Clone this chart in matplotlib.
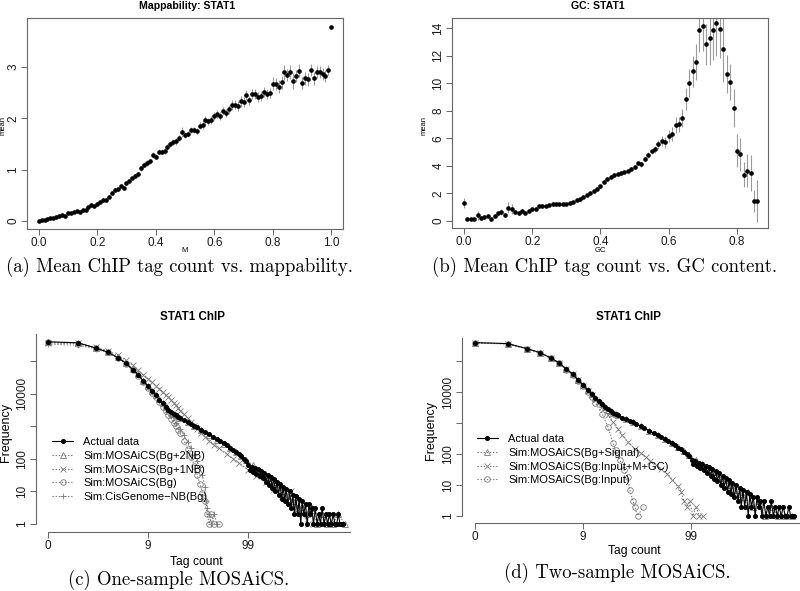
import numpy as np
import matplotlib.pyplot as plt

plt.rcParams['font.family'] = ['Liberation Sans', 'DejaVu Sans']

# (a) mean ChIP tag count per mappability bin
map_x = np.round(np.arange(0, 1.001, 0.01), 2)
map_mean = [0.00, 0.01, 0.02, 0.04, 0.05, 0.05, 0.07, 0.09, 0.11, 0.10,
            0.15, 0.15, 0.17, 0.19, 0.18, 0.22, 0.22, 0.27, 0.31, 0.30,
            0.34, 0.37, 0.40, 0.40, 0.47, 0.55, 0.60, 0.62, 0.68, 0.65,
            0.74, 0.78, 0.84, 0.88, 0.91, 1.03, 1.10, 1.13, 1.16, 1.28,
            1.25, 1.35, 1.35, 1.36, 1.45, 1.50, 1.54, 1.55, 1.62, 1.73,
            1.68, 1.70, 1.77, 1.78, 1.76, 1.86, 1.87, 1.97, 1.94, 1.97,
            2.05, 2.08, 2.04, 2.15, 2.10, 2.18, 2.26, 2.27, 2.24, 2.33,
            2.32, 2.46, 2.35, 2.48, 2.47, 2.41, 2.44, 2.51, 2.48, 2.50,
            2.68, 2.67, 2.62, 2.70, 2.90, 2.85, 2.91, 2.73, 2.83, 2.93,
            2.69, 2.78, 2.76, 2.95, 2.78, 2.91, 2.91, 2.87, 2.82, 2.94,
            3.79]
map_err = [0.01, 0.01, 0.01, 0.01, 0.01, 0.01, 0.01, 0.01, 0.01, 0.01,
           0.02, 0.02, 0.02, 0.02, 0.02, 0.02, 0.02, 0.02, 0.03, 0.03,
           0.03, 0.03, 0.03, 0.03, 0.03, 0.04, 0.04, 0.04, 0.04, 0.04,
           0.04, 0.04, 0.04, 0.04, 0.05, 0.05, 0.05, 0.05, 0.05, 0.06,
           0.05, 0.05, 0.05, 0.05, 0.06, 0.06, 0.06, 0.06, 0.06, 0.10,
           0.06, 0.06, 0.06, 0.06, 0.06, 0.07, 0.07, 0.08, 0.07, 0.07,
           0.08, 0.08, 0.08, 0.08, 0.08, 0.09, 0.09, 0.09, 0.09, 0.10,
           0.09, 0.10, 0.09, 0.10, 0.10, 0.10, 0.10, 0.10, 0.10, 0.10,
           0.12, 0.12, 0.12, 0.12, 0.15, 0.12, 0.14, 0.15, 0.12, 0.13,
           0.12, 0.12, 0.12, 0.12, 0.12, 0.12, 0.12, 0.12, 0.12, 0.10,
           0.00]

# (b) mean ChIP tag count per GC bin
gc_x = np.round(np.arange(0, 0.861, 0.01), 2)
gc_mean = [1.30, 0.15, 0.15, 0.15, 0.40, 0.20, 0.30, 0.35, 0.15, 0.35,
           0.55, 0.65, 0.45, 0.95, 0.85, 0.65, 0.55, 0.70, 0.55, 0.70,
           0.85, 0.90, 1.05, 1.10, 1.10, 1.15, 1.20, 1.20, 1.20, 1.20,
           1.25, 1.30, 1.40, 1.50, 1.60, 1.75, 1.90, 2.05, 2.20, 2.35,
           2.50, 2.80, 3.05, 3.20, 3.30, 3.40, 3.50, 3.55, 3.65, 3.80,
           3.90, 4.20, 4.10, 4.50, 4.80, 5.05, 5.20, 5.55, 5.80, 5.70,
           6.15, 6.30, 6.95, 7.00, 7.45, 8.85, 10.00, 10.85, 11.50, 13.85,
           14.15, 12.80, 13.30, 13.85, 14.35, 13.90, 12.45, 10.65, 10.05, 8.20,
           5.10, 4.85, 3.35, 3.65, 3.50, 1.45, 1.45]
gc_err = [0.35, 0.10, 0.10, 0.10, 0.30, 0.15, 0.15, 0.15, 0.12, 0.15,
          0.20, 0.20, 0.15, 0.40, 0.35, 0.15, 0.15, 0.15, 0.12, 0.12,
          0.10, 0.10, 0.08, 0.08, 0.08, 0.08, 0.08, 0.08, 0.08, 0.08,
          0.08, 0.08, 0.08, 0.08, 0.08, 0.08, 0.08, 0.08, 0.08, 0.08,
          0.10, 0.10, 0.10, 0.10, 0.10, 0.10, 0.10, 0.10, 0.10, 0.12,
          0.12, 0.12, 0.15, 0.15, 0.20, 0.20, 0.25, 0.30, 0.35, 0.40,
          0.45, 0.50, 0.60, 0.55, 0.65, 0.80, 1.00, 1.10, 1.30, 1.60,
          1.80, 1.50, 2.00, 2.20, 2.40, 2.10, 2.40, 1.40, 1.30, 1.40,
          1.20, 1.20, 0.90, 1.20, 1.30, 0.80, 1.50]

# (c), (d) tag count frequency: actual data
act_counts = (list(range(0, 21)) +
              [22, 24, 26, 28, 30, 33, 36, 40, 44, 48, 52, 56, 60, 65, 70, 75, 80, 85, 90, 95] +
              [100, 104, 108, 112, 116, 120, 125, 130, 135, 140, 145, 150, 156, 162, 168,
               174, 180, 187, 194, 201, 208, 216, 224, 232, 240, 250, 260, 270, 280, 290,
               300, 312, 324, 336, 348, 360, 375, 390, 405, 420, 435, 450, 470, 490, 510,
               530, 550, 575, 600, 625, 650, 680, 710, 740, 770, 800, 830, 860, 890])
act_freq = ([390000, 363000, 251000, 186000, 126000, 87000, 55000, 38000, 24000, 17000,
             11700, 8900, 6600, 5000, 4000, 3200, 2750, 2400, 2150, 1950, 1780] +
            [1500, 1330, 1180, 1050, 940, 790, 680, 560, 470, 400,
             345, 300, 260, 220, 190, 160, 140, 118, 100, 84] +
            [66, 46, 58, 40, 53, 35, 48, 30, 42, 25, 37, 20, 32, 16, 28,
             13, 24, 10, 20, 8, 17, 6, 14, 5, 12, 4, 10, 3, 8, 2,
             7, 2, 6, 1, 5, 2, 4, 1, 4, 2, 3, 1, 3, 1, 2,
             1, 3, 1, 2, 1, 2, 1, 2, 1, 1, 2, 1, 1, 1])

# (c) one-sample simulations
b2nb_counts = list(range(0, 21)) + [24, 28, 33, 40, 48, 56, 65, 75, 85, 95, 110, 125, 140, 160, 180,
                                    200, 225, 250, 280, 310, 350, 390, 440, 490, 550, 620, 700, 800, 930]
b2nb_freq = [375000, 352000, 255000, 190000, 130000, 90000, 57000, 39000, 25000, 17500,
             12000, 9000, 6700, 5100, 4100, 3300, 2800, 2450, 2200, 2000, 1800,
             1350, 1050, 780, 540, 390, 290, 215, 160, 120, 92, 65, 47, 36, 26, 19,
             14, 10, 7, 5, 3, 4, 2, 3, 1, 2, 1, 1, 2, 1]
b1nb_counts = list(range(0, 21)) + [22, 24, 26, 28, 30, 33, 36, 40, 45, 50, 60, 70, 80, 100, 120,
                                    150, 180, 220, 270, 330, 400]
b1nb_freq = [368000, 350000, 262000, 205000, 150000, 105000, 75000, 52000, 38000, 29000,
             22000, 17000, 14000, 11000, 9200, 7800, 6500, 5300, 4400, 3600, 3000,
             2300, 1750, 1350, 1050, 830, 620, 480, 360, 270, 210, 140, 100, 75, 45, 30,
             19, 12, 7, 10, 3, 1]
bg_counts = list(range(0, 21)) + [22, 24, 26, 28, 30, 32, 34, 36, 38, 40, 42, 45, 50]
bg_freq = [372000, 345000, 252000, 183000, 122000, 83000, 52000, 35000, 22000, 14500,
           10500, 7700, 5500, 4000, 3000, 2250, 1700, 1300, 1000, 780, 600,
           350, 200, 115, 62, 32, 17, 9, 5, 2, 1, 2, 1, 1]
cis_counts = list(range(0, 11)) + [12, 14, 16, 18, 20, 22, 24, 26, 28, 30, 32, 34, 36, 37, 38,
                                   40, 42, 45, 48]
cis_freq = [330000, 305000, 242000, 183000, 127000, 87000, 56000, 38000, 25000, 16500, 11500,
            6000, 3400, 2000, 1250, 800, 520, 330, 210, 130, 85, 55, 32, 14, 5, 3, 2, 1, 2, 1]

# (d) two-sample simulations
sig_counts = list(range(0, 21)) + [24, 28, 33, 40, 48, 56, 65, 75, 85, 95, 110, 125, 140, 160, 180,
                                   200, 225, 250, 280, 310, 335, 370, 420, 480, 550, 640, 740, 850]
sig_freq = [380000, 360000, 250000, 184000, 124000, 85000, 54000, 37000, 23500, 16500,
            11500, 8700, 6500, 5000, 4000, 3200, 2700, 2350, 2100, 1900, 1750,
            1320, 1040, 790, 560, 400, 300, 220, 165, 122, 92, 66, 48, 37, 27, 20,
            14, 10, 7, 5, 4, 6, 2, 3, 1, 2, 1, 1, 1]
mgc_counts = list(range(0, 13)) + [14, 16, 18, 20, 22, 25, 29, 33, 37, 41, 46, 52, 59, 66, 74,
                                   80, 85, 90, 96, 103, 110, 118, 127]
mgc_freq = [375000, 358000, 250000, 183000, 124000, 85000, 54000, 37000, 23500, 16000,
            11000, 7900, 5700, 3200, 1800, 1050, 620, 400, 240, 150, 105, 80, 60, 45,
            32, 23, 15, 9, 6, 3, 2, 3, 1, 2, 1, 1]
inp_counts = list(range(0, 13)) + [14, 16, 18, 19, 21, 23, 25, 26, 28, 29, 31, 35]
inp_freq = [378000, 357000, 248000, 182000, 122000, 83000, 52000, 35000, 22000, 15000,
            10000, 6800, 4500, 2000, 740, 220, 130, 63, 30, 18, 7, 3, 2, 1, 2]

AX_COL = '#666666'
SIM_COL = '#7a7a7a'
W, H = 800, 591

fig = plt.figure(figsize=(8, 5.91), dpi=100)


def px_axes(l, r, t, b):
    return fig.add_axes([l / W, 1 - b / H, (r - l) / W, (b - t) / H])


def style_ticks(ax, size=8.5):
    ax.tick_params(direction='out', length=4, width=0.7, colors=AX_COL,
                   labelcolor='#1a1a1a', labelsize=size, pad=1.5)
    for lab in ax.get_yticklabels():
        lab.set_rotation(90)
        lab.set_va('center')


# ---- (a) mappability ----
ax = px_axes(27, 343, 18, 229)
lo = np.array(map_mean) - np.array(map_err)
hi = np.array(map_mean) + np.array(map_err)
ax.vlines(map_x, lo, hi, color='#9a9a9a', lw=0.8)
ax.plot(map_x, map_mean, 'o', color='black', ms=2.3)
ax.set_xlim(-0.04, 1.04)
ax.set_ylim(-0.156, 3.957)
ax.set_xticks([0, 0.2, 0.4, 0.6, 0.8, 1.0])
ax.set_xticklabels(['0.0', '0.2', '0.4', '0.6', '0.8', '1.0'])
ax.set_yticks([0, 1, 2, 3])
ax.set_yticklabels(['0', '1', '2', '3'])
for s in ax.spines.values():
    s.set_color(AX_COL)
    s.set_linewidth(0.8)
style_ticks(ax)
ax.set_ylabel('mean', fontsize=5.5)
ax.yaxis.set_label_coords(-0.066, 0.49)
ax.set_xlabel('M', fontsize=5.5)
ax.xaxis.set_label_coords(0.5, -0.085)
fig.text(187 / W, 1 - 6 / H, 'Mappability: STAT1', ha='center', va='center',
         fontsize=7.6, fontweight='bold')

# ---- (b) GC content ----
ax = px_axes(452, 768, 18, 228)
lo = np.array(gc_mean) - np.array(gc_err)
hi = np.array(gc_mean) + np.array(gc_err)
ax.vlines(gc_x, lo, hi, color='#9a9a9a', lw=0.8)
ax.plot(gc_x, gc_mean, 'o', color='black', ms=2.3)
ax.set_xlim(-0.035, 0.891)
ax.set_ylim(-0.51, 14.72)
ax.set_xticks([0, 0.2, 0.4, 0.6, 0.8])
ax.set_xticklabels(['0.0', '0.2', '0.4', '0.6', '0.8'])
ax.set_yticks([0, 2, 4, 6, 8, 10, 12, 14])
ax.set_yticklabels(['0', '2', '4', '6', '8', '10', '12', '14'])
for s in ax.spines.values():
    s.set_color(AX_COL)
    s.set_linewidth(0.8)
style_ticks(ax)
ax.set_ylabel('mean', fontsize=5.5)
ax.yaxis.set_label_coords(-0.076, 0.49)
ax.set_xlabel('GC', fontsize=5.5)
ax.xaxis.set_label_coords(0.468, -0.09)
fig.text(598 / W, 1 - 6 / H, 'GC: STAT1', ha='center', va='center',
         fontsize=7.6, fontweight='bold')


def fwd(k):
    return np.log10(np.asarray(k, dtype=float) + 1.0)


def inv(v):
    return 10 ** np.asarray(v, dtype=float) - 1.0


def freq_axes(l, r, t, b, ytop, ybot):
    ax = px_axes(l, r, t, b)
    ax.set_xscale('function', functions=(fwd, inv))
    ax.set_yscale('log')
    ax.set_xlim(inv(-0.12), inv(3.09))
    ax.set_ylim(10 ** ybot, 10 ** ytop)
    ax.set_xticks([0, 9, 99])
    ax.set_xticklabels(['0', '9', '99'])
    ax.set_yticks([1, 10, 100, 1000, 10000, 100000])
    ax.set_yticklabels(['1', '10', '100', '', '10000', ''])
    ax.minorticks_off()
    ax.spines['top'].set_visible(False)
    ax.spines['right'].set_visible(False)
    ax.spines['left'].set_bounds(1, 10 ** ytop)
    ax.spines['bottom'].set_bounds(0, inv(3.02))
    for s in ('left', 'bottom'):
        ax.spines[s].set_color(AX_COL)
        ax.spines[s].set_linewidth(0.8)
    style_ticks(ax)
    ax.set_ylabel('Frequency', fontsize=9)
    ax.set_xlabel('Tag count', fontsize=8.7)
    return ax


def sim_line(ax, x, y, marker, label):
    return ax.plot(x, y, linestyle=(0, (1.2, 1.6)), lw=0.8, color=SIM_COL,
                   marker=marker, ms=4, mfc='none', mec=SIM_COL, mew=0.6,
                   label=label)[0]


def actual_line(ax):
    return ax.plot(act_counts, act_freq, '-', color='black', lw=0.8, marker='o',
                   ms=2.6, zorder=5, label='Actual data')[0]


leg_kw = dict(loc='upper left', frameon=False, fontsize=8, numpoints=1,
              handlelength=1.9, handletextpad=0.9, labelspacing=0.33,
              borderpad=0, borderaxespad=0)

# ---- (c) one-sample ----
ax = freq_axes(36, 357, 334, 532, 5.83, -0.245)
h = [actual_line(ax),
     sim_line(ax, b2nb_counts, b2nb_freq, '^', 'Sim:MOSAiCS(Bg+2NB)'),
     sim_line(ax, b1nb_counts, b1nb_freq, 'x', 'Sim:MOSAiCS(Bg+1NB)'),
     sim_line(ax, bg_counts, bg_freq, 'o', 'Sim:MOSAiCS(Bg)'),
     sim_line(ax, cis_counts, cis_freq, '+', 'Sim:CisGenome\u2212NB(Bg)')]
ax.legend(handles=h, bbox_to_anchor=(0.05, 0.478), **leg_kw)
ax.yaxis.set_label_coords(-0.075, 0.5)
ax.xaxis.set_label_coords(0.5, -0.12)
fig.text(192 / W, 1 - 317 / H, 'STAT1 ChIP', ha='center', va='center',
         fontsize=8.4, fontweight='bold')

# ---- (d) two-sample ----
ax = freq_axes(462, 809, 338, 523, 5.74, -0.226)
h = [actual_line(ax),
     sim_line(ax, sig_counts, sig_freq, '^', 'Sim:MOSAiCS(Bg+Signal)'),
     sim_line(ax, mgc_counts, mgc_freq, 'x', 'Sim:MOSAiCS(Bg:Input+M+GC)'),
     sim_line(ax, inp_counts, inp_freq, 'o', 'Sim:MOSAiCS(Bg:Input)')]
ax.legend(handles=h, bbox_to_anchor=(0.043, 0.48), **leg_kw)
ax.yaxis.set_label_coords(-0.072, 0.5)
ax.xaxis.set_label_coords(0.498, -0.119)
fig.text(629 / W, 1 - 317 / H, 'STAT1 ChIP', ha='center', va='center',
         fontsize=8.4, fontweight='bold')

# ---- captions ----
cap = dict(ha='center', va='center', fontsize=13.5, family=['cmr10', 'DejaVu Serif'])
fig.text(179 / W, 1 - 267 / H, '(a) Mean ChIP tag count vs. mappability.', **cap)
fig.text(604 / W, 1 - 267 / H, '(b) Mean ChIP tag count vs. GC content.', **cap)
fig.text(179 / W, 1 - 580 / H, '(c) One-sample MOSAiCS.', **cap)
fig.text(617 / W, 1 - 573 / H, '(d) Two-sample MOSAiCS.', **cap)

fig.savefig('out.png', dpi=100, facecolor='white')
